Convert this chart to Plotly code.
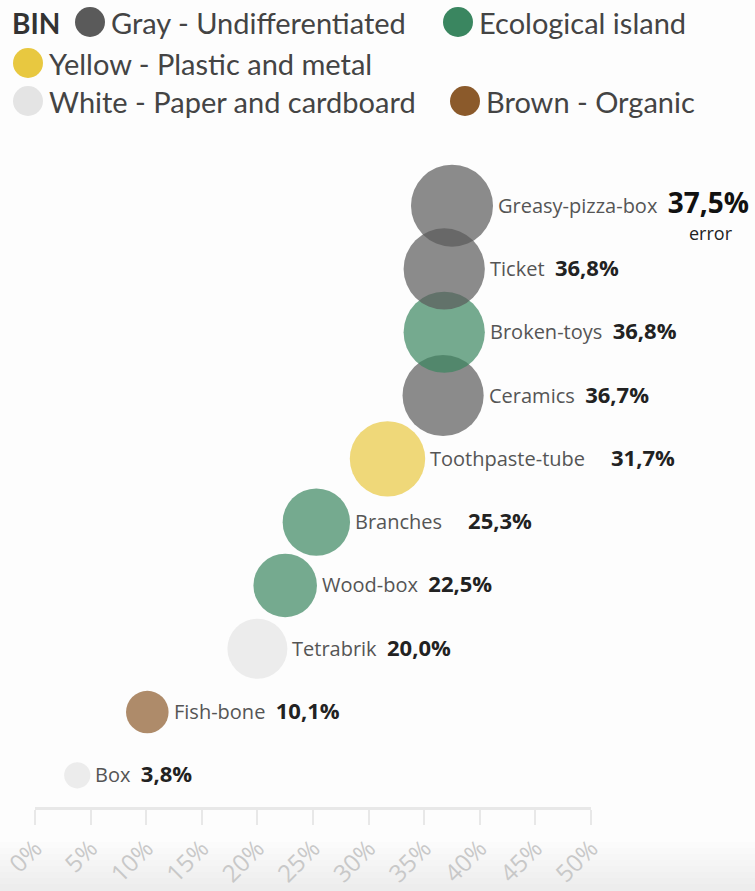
import math
import plotly.graph_objects as go

# ---- data ----
items = ["Box", "Fish-bone", "Tetrabrik", "Wood-box", "Branches",
         "Toothpaste-tube", "Ceramics", "Broken-toys", "Ticket", "Greasy-pizza-box"]
values = [3.8, 10.1, 20.0, 22.5, 25.3, 31.7, 36.7, 36.8, 36.8, 37.5]
bins = ["White", "Brown", "White", "Ecological", "Ecological",
        "Yellow", "Gray", "Ecological", "Gray", "Gray"]
notes = ["", "", "", "", "", "", "", "", "", "error"]

bin_keys = ["Gray", "Ecological", "Yellow", "White", "Brown"]
bin_names = ["Gray - Undifferentiated", "Ecological island", "Yellow - Plastic and metal",
             "White - Paper and cardboard", "Brown - Organic"]
bin_colors = ["#5a5a5a", "#3a8660", "#e8c840", "#e4e4e4", "#8b5a2b"]
x_ticks = [0, 5, 10, 15, 20, 25, 30, 35, 40, 45, 50]
x_tick_labels = ["0%", "5%", "10%", "15%", "20%", "25%", "30%", "35%", "40%", "45%", "50%"]

# ---- layout geometry ----
W, H = 755, 891
L, R, T, B = 35, 164, 174, 84
PW, PH = W - L - R, H - T - B
MAX_D = 82


def px_x(px):
    return (px - L) / PW


def px_y(py):
    return (H - B - py) / PH


color_of = dict(zip(bin_keys, bin_colors))
vmax = max(values)
top_item = items[values.index(vmax)]

fig = go.Figure()
fig.add_trace(go.Scatter(
    x=values, y=items, mode="markers",
    marker=dict(size=values, sizemode="area", sizeref=2 * vmax / MAX_D ** 2,
                color=[color_of[b] for b in bins], opacity=0.7, line=dict(width=0)),
    cliponaxis=False, showlegend=False, hoverinfo="skip",
))

annotations = []
for name, v, note in zip(items, values, notes):
    vtxt = f"{v:.1f}".replace(".", ",") + "%"
    gap = "&nbsp;&nbsp;"
    if name in ("Toothpaste-tube", "Branches"):
        gap = "&nbsp;" * 5
    if name == top_item:
        vspan = f"<span style='font-size:28px;color:#111'><b>{vtxt}</b></span>"
        ys = 4
    else:
        vspan = f"<span style='font-size:22px;color:#222'><b>{vtxt}</b></span>"
        ys = 2
    radius = MAX_D / 2 * math.sqrt(v / vmax)
    annotations.append(dict(x=v, y=name, xref="x", yref="y", text=f"{name}{gap}{vspan}",
                            showarrow=False, xanchor="left", yanchor="middle",
                            xshift=radius + 3, yshift=ys,
                            font=dict(family="Open Sans", size=20, color="#555")))
    if note:
        annotations.append(dict(x=v, y=name, xref="x", yref="y", text=note,
                                showarrow=False, xshift=259, yshift=-27,
                                font=dict(family="Open Sans", size=18, color="#222")))

# ---- manual legend ----
annotations.append(dict(x=px_x(10), y=px_y(23), xref="paper", yref="paper", text="<b>BIN</b>",
                        showarrow=False, xanchor="left", yanchor="middle",
                        font=dict(family="Lato", size=28, color="#333")))
legend_pos = [(90, 22), (458, 22), (28, 63), (28, 101), (465, 101)]
shapes = []
# faint bottom fade of the page
for k in range(8):
    shapes.append(dict(type="rect", xref="paper", yref="paper", layer="below",
                       x0=px_x(0), x1=px_x(W), y0=px_y(H), y1=px_y(842 + k * 6),
                       fillcolor="#d6d6d6", opacity=0.05, line=dict(width=0)))
for (cx, cy), nm, col in zip(legend_pos, bin_names, bin_colors):
    shapes.append(dict(type="circle", xref="paper", yref="paper",
                       xsizemode="pixel", ysizemode="pixel",
                       xanchor=px_x(cx), yanchor=px_y(cy),
                       x0=-15, x1=15, y0=-15, y1=15,
                       fillcolor=col, line=dict(width=0)))
    annotations.append(dict(x=px_x(cx + 19), y=px_y(cy + 1), xref="paper", yref="paper", text=nm,
                            showarrow=False, xanchor="left", yanchor="middle",
                            font=dict(family="Lato", size=29, color="#444")))

fig.update_layout(
    width=W, height=H,
    margin=dict(l=L, r=R, t=T, b=B, autoexpand=False),
    paper_bgcolor="#fdfdfd", plot_bgcolor="rgba(0,0,0,0)",
    xaxis=dict(range=[0, 50], tickvals=x_ticks, ticktext=x_tick_labels, tickangle=-45,
               automargin=False,
               showgrid=False, zeroline=False, showline=True, linecolor="#e8e8e8", linewidth=3,
               ticks="outside", ticklen=15, tickwidth=2, tickcolor="#e8e8e8",
               tickfont=dict(family="Open Sans", size=24, color="#c8c8c8")),
    yaxis=dict(categoryorder="array", categoryarray=items, range=[-0.5, len(items) - 0.5],
               automargin=False,
               showgrid=False, zeroline=False, showline=False, showticklabels=False, ticks=""),
    annotations=annotations, shapes=shapes,
)

fig.write_html("out.html", config={"displayModeBar": False},
               post_script="document.body.style.margin='0';")
